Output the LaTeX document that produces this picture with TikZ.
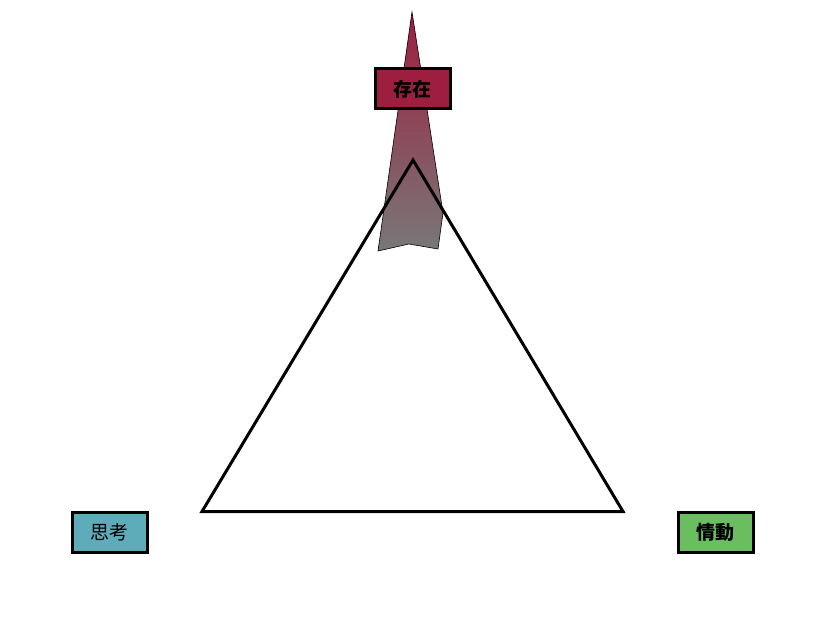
\documentclass[tikz,border=0pt]{standalone}
\usepackage{fontspec}
\newfontfamily\cjk{Noto Sans CJK JP}
\definecolor{cred}{RGB}{158,30,64}
\definecolor{cgray}{RGB}{120,120,120}
\definecolor{cteal}{RGB}{94,172,186}
\definecolor{cgreen}{RGB}{106,190,96}
\begin{document}
\begin{tikzpicture}[x=1pt,y=-1pt,
  lbl/.style={draw=black,line width=3pt,minimum width=75pt,minimum height=40pt,inner sep=0pt,font=\cjk\fontsize{19}{19}\selectfont},
  tri/.style={draw=black,line width=3pt,line join=miter}]
\useasboundingbox (0,0) rectangle (822,623);
% arrow
\shadedraw[top color=cred,bottom color=cgray,draw=black,line width=0.6pt]
  (412,12) coordinate (tip) -- (443,213) -- (438,249) -- (409,244) -- (378,251) -- cycle;
% triangle
\coordinate (A) at (413,160);
\coordinate (B) at (202,511.5);
\coordinate (C) at (623,511.5);
\draw[tri] (A) -- (B) -- (C) -- cycle;
% labels
\node[lbl,fill=cred] (exist) at (412.5,89) {\bfseries 存在};
\node[lbl,fill=cteal] (think) at (109.5,532) {思考};
\node[lbl,fill=cgreen] (emo) at (715.5,532) {\bfseries 情動};
\end{tikzpicture}
\end{document}
